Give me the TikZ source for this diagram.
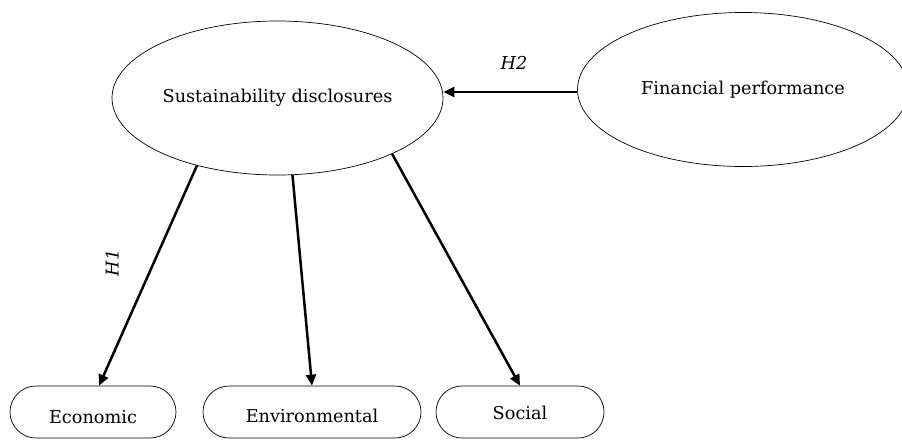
\documentclass[tikz,border=0pt]{standalone}
\usepackage{fontspec}
\setmainfont{DejaVu Serif}
\usetikzlibrary{shapes.geometric,shapes.misc,arrows.meta}
\begin{document}
\begin{tikzpicture}[x=1pt,y=-1pt,
  txt/.style={font=\fontsize{17.7}{21}\selectfont},
  latent/.style={ellipse,draw,line width=0.7pt,inner sep=0pt,
    minimum width=331pt,minimum height=154pt,txt},
  dimbox/.style={rounded rectangle,draw,line width=0.7pt,inner sep=0pt,
    minimum height=52pt,text depth=0pt,txt},
  link/.style={-{Triangle[length=11pt,width=10pt]},line width=2.5pt},
  hyp/.style={font=\fontsize{17.7}{21}\selectfont\itshape,inner sep=0pt}]
\useasboundingbox (0,0) rectangle (902,440);
\node[latent] (sd) at (277.5,98) {Sustainability disclosures};
\node[latent] (fp) at (743,89.5) {Financial performance};
\node[dimbox,minimum width=166pt,text height=22pt] (eco) at (93,412) {Economic};
\node[dimbox,minimum width=218pt,text height=20pt] (env) at (312,412) {Environmental};
\node[dimbox,minimum width=168pt,text height=14pt] (soc) at (520,412) {Social};
\draw[link] (fp.west |- 0,92) coordinate (fpw) -- (sd.east |- fpw);
\draw[link] (sd.220.7) -- (eco.77);
\draw[link] (sd.-79.2) -- (env.north);
\draw[link] (sd.-26.7) -- (soc.north);
\node[hyp] (h2) at (514,63) {H2};
\node[hyp,rotate=90] (h1) at (112,263) {H1};
\end{tikzpicture}
\end{document}
